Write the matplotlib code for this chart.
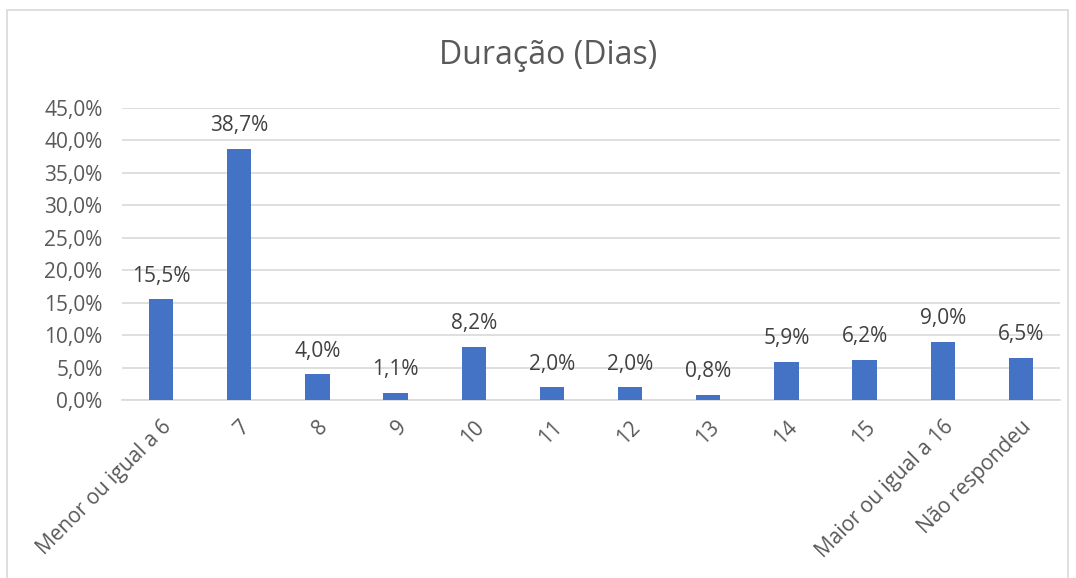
import matplotlib
matplotlib.use("Agg")
import matplotlib.pyplot as plt
from matplotlib.patches import Rectangle

categories = ["Menor ou igual a 6", "7", "8", "9", "10", "11", "12", "13", "14", "15",
              "Maior ou igual a 16", "Não respondeu"]
values = [15.5, 38.7, 4.0, 1.1, 8.2, 2.0, 2.0, 0.8, 5.9, 6.2, 9.0, 6.5]
title = "Duração (Dias)"
yticks = [0, 5, 10, 15, 20, 25, 30, 35, 40, 45]

plt.rcParams['font.family'] = ['Open Sans', 'DejaVu Sans']
txt = '#595959'

fig = plt.figure(figsize=(10.76, 5.78), dpi=100)
fig.patches.append(Rectangle((7/1076, -0.05), (1068-7)/1076, 1.05 - 10/578,
                             transform=fig.transFigure, fill=False,
                             edgecolor='#D9D9D9', linewidth=1.2))
ax = fig.add_axes([122/1076, 1-400/578, (1060-122)/1076, (400-108)/578])

x = list(range(len(categories)))
ax.bar(x, values, width=0.31, color='#4472C4', zorder=3)
for xi, v in zip(x, values):
    ax.annotate(f"{v:.1f}%".replace('.', ','), (xi, v), xytext=(0, 9),
                textcoords='offset points', ha='center', va='bottom',
                fontsize=15, color='#404040')

ax.set_xlim(-0.5, len(categories) - 0.5)
ax.set_ylim(0, 45)
ax.set_yticks(yticks)
ax.set_yticklabels([f"{t:.1f}%".replace('.', ',') for t in yticks], fontsize=15, color=txt)
ax.set_xticks(x)
ax.set_xticklabels(categories, rotation=45, ha='right', rotation_mode='anchor',
                   fontsize=15, color=txt)
ax.tick_params(axis='y', length=0, pad=14)
ax.tick_params(axis='x', length=0, pad=12)
ax.grid(axis='y', color='#D9D9D9', linewidth=1.2, zorder=0)
for s in ['top', 'right', 'left']:
    ax.spines[s].set_visible(False)
ax.spines['bottom'].set_color('#D9D9D9')
ax.spines['bottom'].set_linewidth(1.2)

fig.text(548/1076, 1-55/578, title, ha='center', va='center', fontsize=23, color=txt)

fig.savefig("out.png", dpi=100)
